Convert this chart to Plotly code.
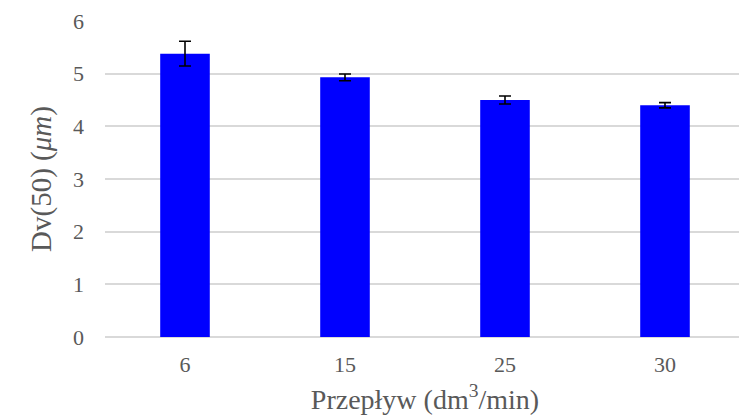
import plotly.graph_objects as go

categories = ["6", "15", "25", "30"]
values = [5.38, 4.93, 4.50, 4.40]
errors = [0.235, 0.065, 0.075, 0.05]
y_ticks = [0, 1, 2, 3, 4, 5, 6]

fig = go.Figure()
fig.add_trace(go.Bar(
    x=categories, y=values,
    marker=dict(color="#0000FF", line=dict(width=0)),
    width=0.31,
    error_y=dict(type="data", array=errors, visible=True, color="black", thickness=1.6, width=6),
))

font_family = "Liberation Serif"
fig.update_layout(
    width=747, height=418,
    margin=dict(l=97, r=10, t=13, b=89),
    plot_bgcolor="white", paper_bgcolor="white",
    showlegend=False,
    font=dict(family=font_family, color="#595959", size=22),
)
fig.update_xaxes(
    type="category", automargin=False,
    showgrid=False, showline=False, ticks="",
    tickfont=dict(size=22, color="#595959", family=font_family),
    ticklabelstandoff=12,
    title=dict(text="Przepływ (dm<sup>3</sup>/min)", font=dict(size=28, color="#595959", family=font_family), standoff=13),
)
fig.update_yaxes(
    range=[0, 6], tickvals=y_ticks, automargin=False,
    showgrid=True, gridcolor="#D9D9D9", gridwidth=1.5,
    zeroline=True, zerolinecolor="#D9D9D9", zerolinewidth=1.5,
    showline=False, ticks="",
    tickfont=dict(size=22, color="#595959", family=font_family),
    ticklabelstandoff=20,
    title=dict(text="Dv(50) (<i>μm</i>)", font=dict(size=29, color="#595959", family=font_family), standoff=12),
)

fig.write_html("out.html")
